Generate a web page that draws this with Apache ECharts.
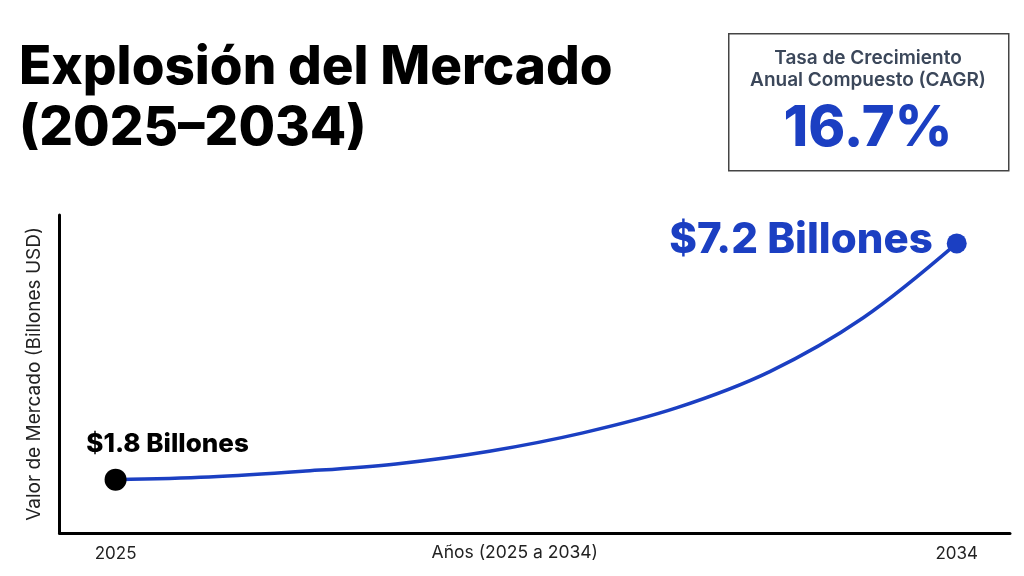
<!DOCTYPE html>
<html>
<head>
<meta charset="utf-8">
<script src="https://cdn.jsdelivr.net/npm/echarts@6/dist/echarts.min.js"></script>
<style>
  html, body { margin: 0; padding: 0; background: #fff; }
  #chart { width: 1024px; height: 576px; }
</style>
</head>
<body>
<div id="chart"></div>
<script>
// Market size, billions USD
const years = [2025, 2026, 2027, 2028, 2029, 2030, 2031, 2032, 2033, 2034];
const values = [1.8, 1.86, 1.99, 2.16, 2.45, 2.87, 3.44, 4.27, 5.5, 7.2];
const yearLabels = [2025, 2034];
const cagr = '16.7%';

const BLUE = '#1B3FC2';
const FONT = 'Inter, Roboto, "Noto Sans", sans-serif';

const last = years.length - 1;
const seriesData = years.map((y, i) => {
  const item = { value: [y, values[i]], symbol: 'none' };
  if (i === 0) {
    item.symbol = 'circle';
    item.symbolSize = 22;
    item.itemStyle = { color: '#000' };
    item.label = {
      show: true, position: 'top', distance: 11, offset: [52, 0],
      formatter: '$' + values[i] + ' Billones',
      color: '#000', fontSize: 26, fontWeight: 800, fontFamily: FONT,
    };
  } else if (i === last) {
    item.symbol = 'circle';
    item.symbolSize = 20;
    item.itemStyle = { color: BLUE };
    item.label = {
      show: true, position: 'left', distance: 14, offset: [0, -3],
      formatter: '$' + values[i] + ' Billones',
      color: BLUE, fontSize: 42, fontWeight: 800, fontFamily: FONT,
    };
  }
  return item;
});

const chart = echarts.init(document.getElementById('chart'), null, { renderer: 'canvas' });
chart.setOption({
  animation: false,
  backgroundColor: '#fff',
  textStyle: { fontFamily: FONT },
  title: {
    text: 'Explosión del Mercado\n(2025–2034)',
    left: 14, top: 33,
    textStyle: { fontSize: 53, fontWeight: 800, lineHeight: 61, color: '#000', fontFamily: FONT },
  },
  graphic: [
    {
      type: 'rect', left: 728, top: 33,
      shape: { width: 280, height: 137 },
      style: { fill: '#fff', stroke: '#444', lineWidth: 1.5 },
    },
    {
      type: 'text', x: 868, y: 69,
      style: {
        text: 'Tasa de Crecimiento\nAnual Compuesto (CAGR)',
        textAlign: 'center', textVerticalAlign: 'middle',
        fontSize: 19, lineHeight: 22, fontWeight: 600, fill: '#3B475A', fontFamily: FONT,
      },
    },
    {
      type: 'text', x: 868, y: 129,
      style: {
        text: cagr, textAlign: 'center', textVerticalAlign: 'middle',
        fontSize: 56, fontWeight: 800, fill: BLUE, fontFamily: FONT,
      },
    },
  ],
  grid: { left: 59.5, right: 14, top: 215, bottom: 43, containLabel: false, outerBoundsMode: 'none' },
  xAxis: {
    type: 'value',
    min: 2024.4, max: 2034.57,
    name: 'Años (2025 a 2034)',
    nameLocation: 'middle', nameGap: 11, nameMoveOverlap: false,
    nameTextStyle: { fontSize: 17.5, color: '#222', padding: [0, 40, 0, 0] },
    axisLine: { show: true, lineStyle: { color: '#000', width: 3 } },
    axisTick: { show: false },
    splitLine: { show: false },
    axisLabel: {
      customValues: yearLabels, margin: 12,
      fontSize: 17, color: '#222',
      formatter: (v) => String(v),
    },
  },
  yAxis: {
    type: 'value',
    min: 0.58, max: 7.85,
    name: 'Valor de Mercado (Billones USD)',
    nameLocation: 'middle', nameGap: 16,
    nameTextStyle: { fontSize: 19, color: '#222' },
    axisLine: { show: true, lineStyle: { color: '#000', width: 3 } },
    axisTick: { show: false },
    axisLabel: { show: false },
    splitLine: { show: false },
  },
  series: [{
    type: 'line',
    data: seriesData,
    smooth: 0.35,
    lineStyle: { color: BLUE, width: 3.5 },
    z: 3,
  }],
});
</script>
</body>
</html>
